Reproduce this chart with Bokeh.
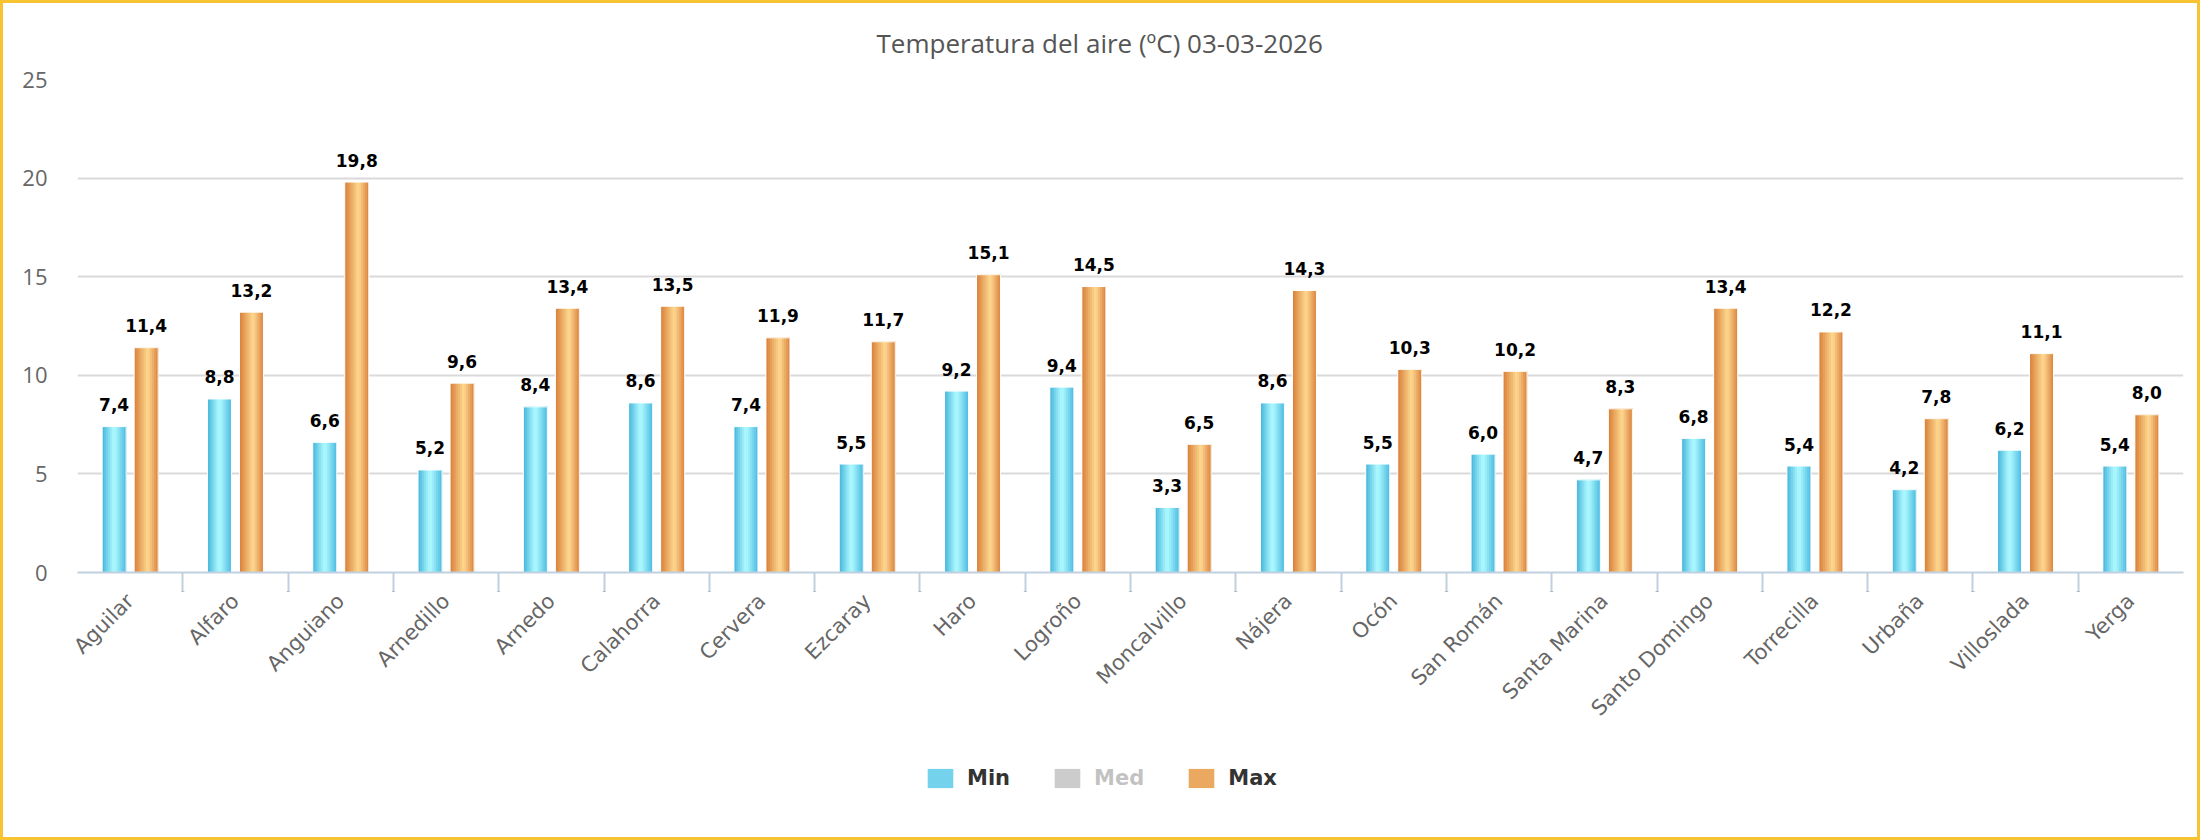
from math import pi

from bokeh.core.properties import value
from bokeh.embed import file_html
from bokeh.layouts import column
from bokeh.models import (CategoricalAxis, ColumnDataSource, FactorRange, FixedTicker,
                          Legend, LegendItem, Range1d)
from bokeh.plotting import figure
from bokeh.resources import INLINE
from bokeh.transform import dodge

# ---- data -------------------------------------------------------------
stations = ["Aguilar", "Alfaro", "Anguiano", "Arnedillo", "Arnedo", "Calahorra",
            "Cervera", "Ezcaray", "Haro", "Logroño", "Moncalvillo", "Nájera", "Ocón",
            "San Román", "Santa Marina", "Santo Domingo", "Torrecilla", "Urbaña",
            "Villoslada", "Yerga"]
t_min = [7.4, 8.8, 6.6, 5.2, 8.4, 8.6, 7.4, 5.5, 9.2, 9.4,
         3.3, 8.6, 5.5, 6.0, 4.7, 6.8, 5.4, 4.2, 6.2, 5.4]
t_max = [11.4, 13.2, 19.8, 9.6, 13.4, 13.5, 11.9, 11.7, 15.1, 14.5,
         6.5, 14.3, 10.3, 10.2, 8.3, 13.4, 12.2, 7.8, 11.1, 8.0]
y_ticks = [0, 5, 10, 15, 20, 25]
series_names = ["Min", "Med", "Max"]
title_text = "Temperatura del aire (ºC) 03-03-2026"


def es_label(v):
    return f"{v:.1f}".replace(".", ",")


src = ColumnDataSource(dict(
    station=stations,
    tmin=t_min,
    tmax=t_max,
    lmin=[es_label(v) for v in t_min],
    lmax=[es_label(v) for v in t_max],
))

# ---- styling ----------------------------------------------------------
W = 2194
H_CHART, H_LEGEND = 760, 74
AXIS_BLUE = "#c0d0e0"
BAR_W = 0.228          # bar width in category units
OFFSET = 0.152         # distance of each bar from the category centre
N_STRIPS = 12          # vertical strips used to shade each bar

MIN_STOPS = [(0.0, "#45b4db"), (0.45, "#a8f6fd"), (0.55, "#a8f6fd"), (1.0, "#4cbbe0")]
MAX_STOPS = [(0.0, "#d87e37"), (0.55, "#fdd68d"), (0.62, "#fbcf88"), (1.0, "#da833e")]


def hex_to_rgb(h):
    h = h.lstrip("#")
    return tuple(int(h[i:i + 2], 16) for i in (0, 2, 4))


def shade(stops, t):
    for (t0, c0), (t1, c1) in zip(stops[:-1], stops[1:]):
        if t0 <= t <= t1:
            f = 0 if t1 == t0 else (t - t0) / (t1 - t0)
            a, b = hex_to_rgb(c0), hex_to_rgb(c1)
            return "#%02x%02x%02x" % tuple(round(x + (y - x) * f) for x, y in zip(a, b))
    return stops[-1][1]


p = figure(
    width=W, height=H_CHART,
    x_range=FactorRange(*stations, range_padding=0, factor_padding=0),
    y_range=Range1d(0, 25),
    x_axis_location=None,
    output_backend="svg", toolbar_location=None,
    min_border_left=74, min_border_right=14, min_border_top=76,
    min_border_bottom=H_CHART - 569,
    border_fill_color="white", background_fill_color="white",
)
p.outline_line_color = None

# title
p.title.text = title_text
p.title.text_font = "Open Sans"
p.title.text_font_size = "26px"
p.title.text_font_style = "normal"
p.title.text_color = "#555555"
p.title.align = "left"
p.title.offset = 799
p.title.standoff = 38

# y axis and grid
p.yaxis.ticker = FixedTicker(ticks=y_ticks)
p.yaxis.axis_line_color = None
p.yaxis.major_tick_line_color = None
p.yaxis.minor_tick_line_color = None
p.yaxis.major_tick_in = 0
p.yaxis.major_tick_out = 0
p.yaxis.major_label_standoff = 30
p.yaxis.major_label_text_font = "Open Sans"
p.yaxis.major_label_text_font_size = "22px"
p.yaxis.major_label_text_color = "#666666"
p.ygrid.ticker = FixedTicker(ticks=y_ticks)
p.ygrid.grid_line_color = "#dadada"
p.ygrid.grid_line_width = 2
p.xgrid.grid_line_color = None

# x axis: boundary ticks between stations (a shifted factor range whose
# factor centres fall on the station edges) + rotated station names
edges = [f"edge{i}" for i in range(len(stations) + 1)]
p.extra_x_ranges = {"edges": FactorRange(*edges, range_padding=-0.5,
                                         range_padding_units="absolute", factor_padding=0)}
edge_axis = CategoricalAxis(
    x_range_name="edges",
    axis_line_color=AXIS_BLUE, axis_line_width=2,
    major_tick_line_color=AXIS_BLUE, major_tick_line_width=2,
    major_tick_in=0, major_tick_out=19,
    major_label_overrides={e: "" for e in edges},
    major_label_standoff=0,
    major_label_text_font_size="1px",
)
p.add_layout(edge_axis, "below")

cat_axis = CategoricalAxis(
    axis_line_color=None, major_tick_line_color=None,
    major_tick_in=0, major_tick_out=0,
    major_label_orientation=pi / 4,
    major_label_standoff=2,
    major_label_text_font="DejaVu Sans",
    major_label_text_font_size="21px",
    major_label_text_color="#666666",
)
p.add_layout(cat_axis, "below")


# ---- bars -------------------------------------------------------------
def draw_series(field, label_field, center, stops):
    left = center - BAR_W / 2
    right = center + BAR_W / 2
    for i in range(N_STRIPS):
        l = left + i * BAR_W / N_STRIPS
        p.vbar(x=dodge("station", (l + right) / 2, range=p.x_range), top=field, bottom=0,
               width=right - l, source=src,
               fill_color=shade(stops, (i + 0.5) / N_STRIPS), line_color=None)
    p.vbar(x=dodge("station", center, range=p.x_range), top=field, bottom=0, width=BAR_W,
           source=src, fill_color=None, line_color="white", line_width=1)
    p.text(x=dodge("station", center, range=p.x_range), y=field, text=label_field, source=src,
           text_align="center", text_baseline="alphabetic", y_offset=-22,
           text_font=value("DejaVu Sans"), text_font_style="bold",
           text_font_size="17px", text_color="black")


draw_series("tmin", "lmin", -OFFSET, MIN_STOPS)
draw_series("tmax", "lmax", OFFSET, MAX_STOPS)

# ---- legend strip under the chart -------------------------------------
lp = figure(width=W, height=H_LEGEND, x_range=Range1d(0, 1), y_range=Range1d(0, 1),
            output_backend="svg", toolbar_location=None,
            min_border=0, border_fill_color="white", background_fill_color="white")
lp.axis.visible = False
lp.grid.visible = False
lp.outline_line_color = None

# swatch renderers: one row each, placed outside the visible range so only
# their legend glyphs show
swatch = ColumnDataSource(dict(x=[5], top=[0]))
leg_min = lp.vbar(x="x", top="top", width=0.1, source=swatch, fill_color="#74d2ec", line_color=None)
leg_med = lp.vbar(x="x", top="top", width=0.1, source=swatch, fill_color="#555555", line_color=None)
leg_med.visible = False
leg_max = lp.vbar(x="x", top="top", width=0.1, source=swatch, fill_color="#eba860", line_color=None)

legend = Legend(
    items=[LegendItem(label=series_names[0], renderers=[leg_min]),
           LegendItem(label=series_names[1], renderers=[leg_med]),
           LegendItem(label=series_names[2], renderers=[leg_max])],
    location=(847, 47), orientation="horizontal", click_policy="hide",
    glyph_width=32, glyph_height=24, label_standoff=11, spacing=41,
    padding=0, margin=0, border_line_color=None, background_fill_alpha=0,
    label_text_font="DejaVu Sans", label_text_font_style="bold",
    label_text_font_size="21px", label_text_color="#333333",
    inactive_fill_color="white", inactive_fill_alpha=0.7,
)
lp.add_layout(legend)

page = column(p, lp, spacing=0, styles={"border": "3px solid #f7c333"})

open("out.html", "w").write(file_html(page, INLINE))
